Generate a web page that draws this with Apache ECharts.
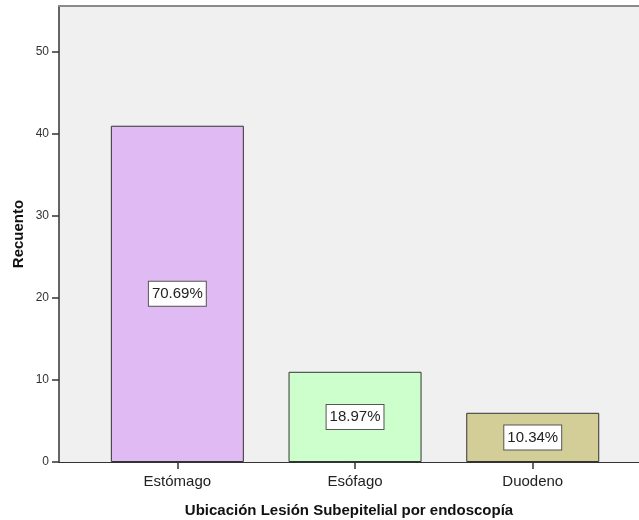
<!DOCTYPE html>
<html>
<head>
<meta charset="utf-8">
<script src="https://cdn.jsdelivr.net/npm/echarts@6/dist/echarts.min.js"></script>
<style>
  html, body { margin: 0; padding: 0; background: #ffffff; }
  #chart { width: 639px; height: 520px; }
</style>
</head>
<body>
<div id="chart"></div>
<script>
// Ubicación de la lesión subepitelial: recuento por localización
const categories = ['Estómago', 'Esófago', 'Duodeno'];
const counts = [41, 11, 6];
const barColors = ['#dfbaf3', '#ccffcc', '#d3cd98'];
const yTicks = [0, 10, 20, 30, 40, 50];

const total = counts.reduce((a, b) => a + b, 0);
const FONT = "'Liberation Sans', Arial, sans-serif";
const positions = categories.map((_, i) => i);

const chart = echarts.init(document.getElementById('chart'), null, { renderer: 'canvas' });

chart.setOption({
  animation: false,
  backgroundColor: '#ffffff',
  textStyle: { fontFamily: FONT },
  grid: {
    left: 59, top: 6, right: 0, bottom: 58,
    containLabel: false,
    outerBoundsMode: 'none',
    show: true, backgroundColor: '#f0f0f0', borderWidth: 0
  },
  xAxis: [
    {
      type: 'value',
      min: -0.666, max: 2.598,
      name: 'Ubicación Lesión Subepitelial por endoscopía',
      nameLocation: 'middle',
      nameGap: 41,
      nameMoveOverlap: false,
      nameTextStyle: { fontFamily: FONT, fontSize: 15, fontWeight: 'bold', color: '#111' },
      axisLine: { show: true, onZero: false, lineStyle: { color: '#333', width: 1 } },
      axisTick: { show: true, length: 7, customValues: positions, lineStyle: { color: '#333', width: 1.5 } },
      axisLabel: {
        show: true, margin: 12, customValues: positions,
        fontFamily: FONT, fontSize: 15, color: '#222',
        formatter: v => categories[Math.round(v)]
      },
      splitLine: { show: false }
    },
    {
      // gray frame line along the top of the plot
      type: 'value', position: 'top',
      min: 0, max: 1,
      axisLine: { show: true, onZero: false, lineStyle: { color: '#8a8a8a', width: 2 } },
      axisTick: { show: false }, axisLabel: { show: false }, splitLine: { show: false }
    }
  ],
  yAxis: {
    type: 'value',
    min: 0, max: 55.6, interval: 10,
    name: 'Recuento',
    nameLocation: 'middle',
    nameRotate: 90,
    nameGap: 33,
    nameMoveOverlap: false,
    nameTextStyle: { fontFamily: FONT, fontSize: 15, fontWeight: 'bold', color: '#111' },
    axisLine: { show: true, onZero: false, lineStyle: { color: '#333', width: 1.5 } },
    axisTick: { show: true, length: 7, customValues: yTicks, lineStyle: { color: '#333', width: 1.5 } },
    axisLabel: {
      margin: 10, customValues: yTicks,
      fontFamily: FONT, fontSize: 12, color: '#333'
    },
    splitLine: { show: false }
  },
  series: [{
    type: 'bar',
    xAxisIndex: 0,
    barWidth: 133,
    data: counts.map((c, i) => ({
      value: [positions[i], c],
      itemStyle: { color: barColors[i], borderColor: '#333', borderWidth: 1 }
    })),
    label: {
      show: true,
      position: 'inside',
      formatter: p => (p.value[1] / total * 100).toFixed(2) + '%',
      fontFamily: FONT, fontSize: 15, color: '#222',
      backgroundColor: '#ffffff',
      borderColor: '#555', borderWidth: 1,
      padding: [5, 3, 4, 3]
    }
  }]
});
</script>
</body>
</html>
